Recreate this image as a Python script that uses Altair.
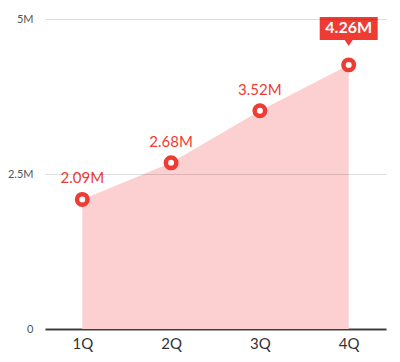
import altair as alt
import pandas as pd

quarters = ["1Q", "2Q", "3Q", "4Q"]
values = [2.09, 2.68, 3.52, 4.26]  # millions
labels = ["2.09M", "2.68M", "3.52M", "4.26M"]
y_ticks = [0, 2.5, 5]

df = pd.DataFrame({"q": quarters, "v": values, "lab": labels})
df["last"] = [False] * (len(df) - 1) + [True]

RED = "#ee3b33"
FONT = "Lato"

x = alt.X("q:N", sort=quarters, title=None,
          scale=alt.Scale(type="point", padding=0.42),
          axis=alt.Axis(labelAngle=0, labelFontSize=15, labelColor="#333333",
                        labelFont=FONT, ticks=False, labelPadding=7,
                        domainColor="#444444", domainWidth=2, grid=False))
y = alt.Y("v:Q", title=None,
          scale=alt.Scale(domain=[0, 5], nice=False),
          axis=alt.Axis(values=y_ticks, labelExpr="datum.value == 0 ? '0' : datum.value + 'M'",
                        labelFontSize=11, labelColor="#555555", labelFont=FONT,
                        ticks=False, domain=False, labelPadding=12,
                        gridColor="#000000", gridOpacity=0.13, gridWidth=1, zindex=1))

base = alt.Chart(df)

area = base.mark_area(color="#fcd0d0", opacity=1).encode(x=x, y=y)

pts = base.mark_circle(size=110, fill="white", stroke=RED, strokeWidth=4.5, opacity=1).encode(
    x=alt.X("q:N", sort=quarters), y="v:Q")

txt = base.transform_filter("!datum.last").mark_text(
    color=RED, fontSize=15, font=FONT, dy=-21, baseline="middle").encode(
    x=alt.X("q:N", sort=quarters), y="v:Q", text="lab:N")

callout_path = "M -2.9 -4.8 L 2.9 -4.8 L 2.9 -2.5 L 0.4 -2.5 L 0 -1.9 L -0.4 -2.5 L -2.9 -2.5 Z"
box = base.transform_filter("datum.last").mark_point(
    shape=callout_path, size=400, filled=True, fill=RED, opacity=1).encode(
    x=alt.X("q:N", sort=quarters), y="v:Q")

boxtxt = base.transform_filter("datum.last").mark_text(
    color="white", fontSize=16, fontWeight="bold", font=FONT, dy=-36.5, baseline="middle").encode(
    x=alt.X("q:N", sort=quarters), y="v:Q", text="lab:N")

chart = alt.layer(area, pts, txt, box, boxtxt).properties(
    width=341, height=310,
    autosize=alt.AutoSizeParams(type="none"),
    padding={"left": 37, "top": 11, "right": 6, "bottom": 30},
).configure_view(stroke=None)

chart.save("out.html", embed_options={"renderer": "svg", "actions": False})
